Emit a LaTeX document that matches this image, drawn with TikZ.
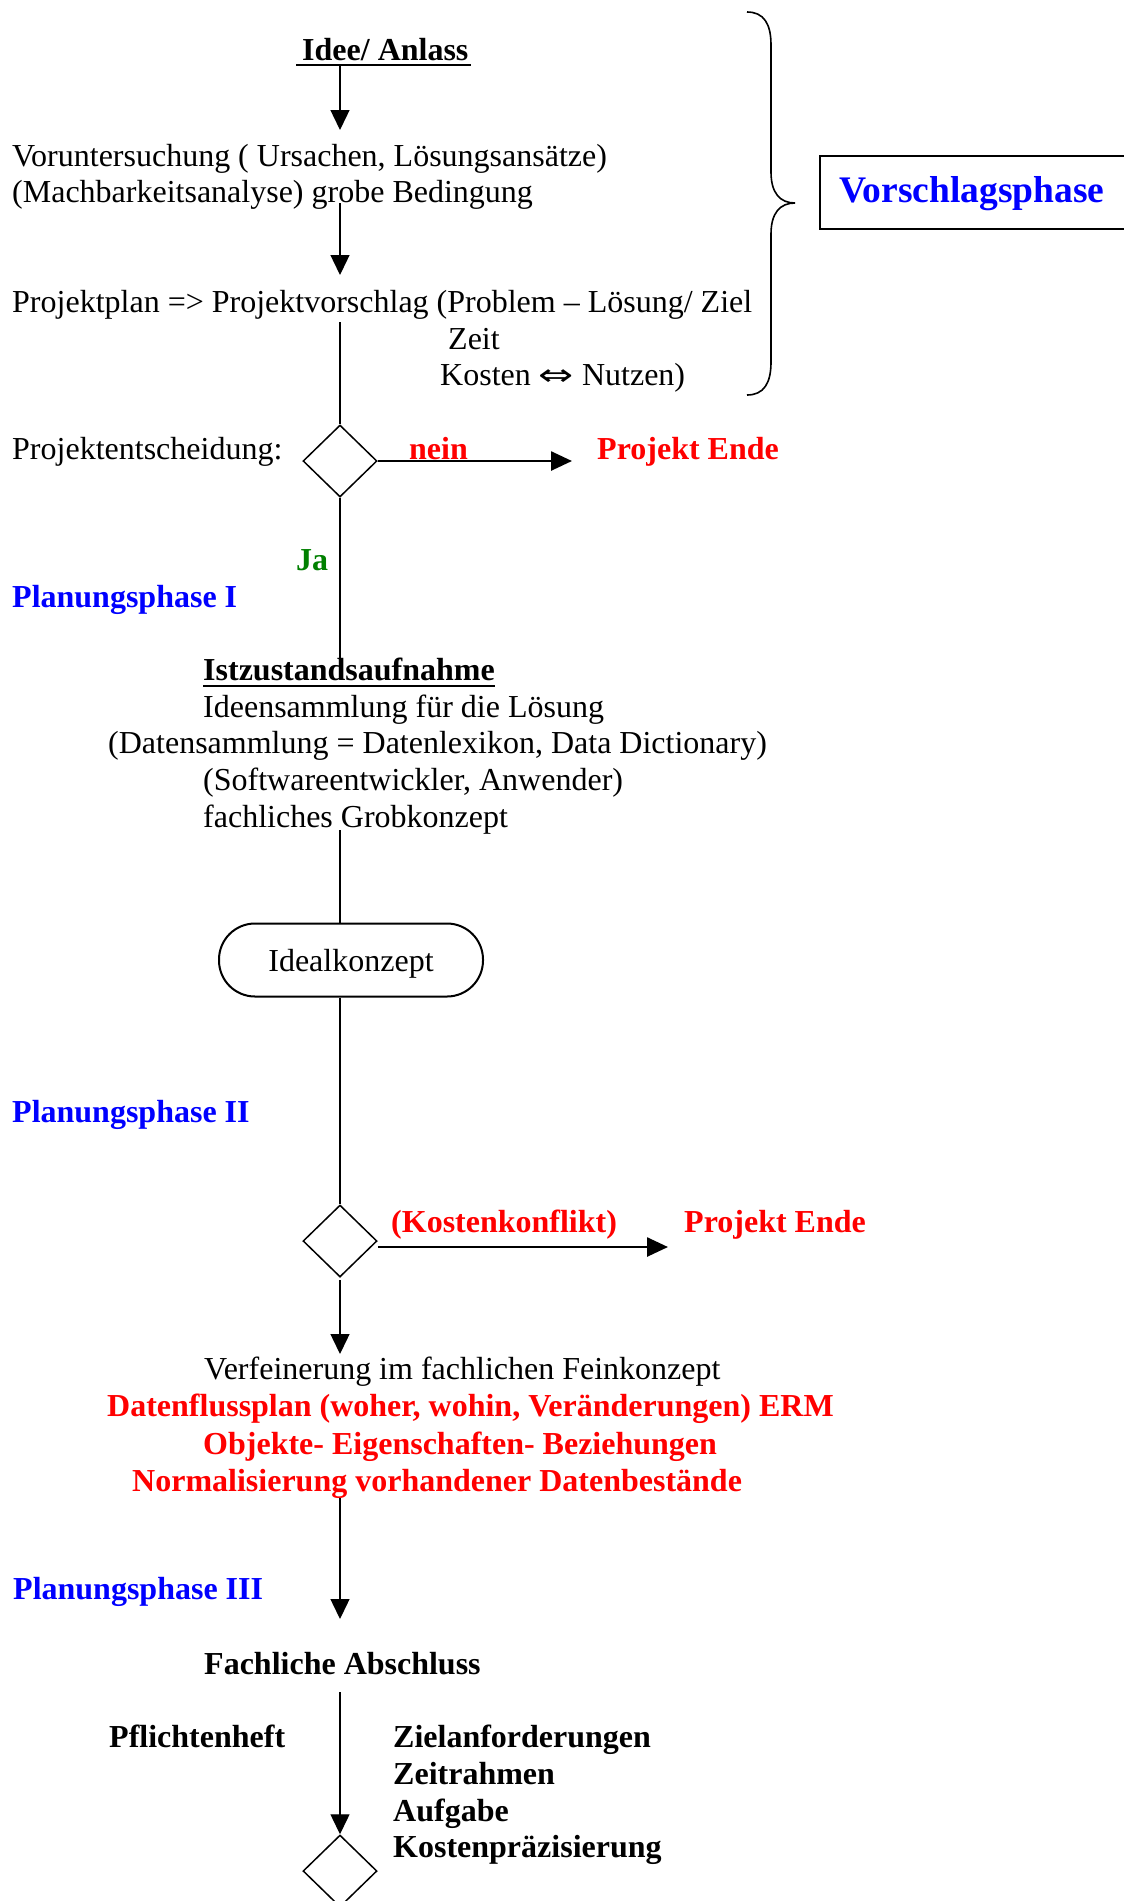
\documentclass[tikz,border=0pt]{standalone}
\usepackage{fontspec}
\setmainfont{Liberation Serif}
\newfontfamily\symfont{DejaVu Sans}
\usetikzlibrary{arrows.meta,shapes.geometric,calc}
\definecolor{myred}{RGB}{255,0,0}
\definecolor{myblue}{RGB}{0,0,255}
\definecolor{mygreen}{RGB}{0,128,0}
\begin{document}
\begin{tikzpicture}[x=1pt,y=-1pt,
  txt/.style={anchor=base west, inner sep=0pt, xshift=-1pt, yshift=2pt, font=\fontsize{32}{37}\selectfont},
  bold/.style={anchor=base west, inner sep=0pt, xshift=-1pt, yshift=2pt, font=\fontsize{32}{37}\selectfont\bfseries},
  flow/.style={line width=1.4pt},
  arr/.style={line width=1.4pt, -{Triangle[length=20pt,width=19pt]}},
  harr/.style={line width=2.6pt, -{Triangle[length=21pt,width=19pt]}},
  dia/.style={draw, diamond, line width=1.5pt, minimum width=74pt, minimum height=72pt, inner sep=0pt},
  uline/.style={line width=2.7pt}
]
\useasboundingbox (0,0) rectangle (1124,1901);
\clip (0,0) rectangle (1124,1901);
\fill[white] (0,0) rectangle (1124,1901);

% --- Vorschlagsphase part
\node[bold] (idee) at (303,62) {Idee/ Anlass};
\draw[uline] ($(idee.base west)+(-6,5)$) -- ($(idee.base east)+(2,5)$);
\node[txt] (vor1) at (13,168) {Voruntersuchung ( Ursachen, Lösungsansätze)};
\node[txt] (vor2) at (13,204) {(Machbarkeitsanalyse) grobe Bedingung};
\node[txt] (plan1) at (13,314) {Projektplan => Projektvorschlag (Problem – Lösung/ Ziel};
\node[txt] (plan2) at (449,351) {Zeit};
\node[txt] (plan3) at (441,387) {Kosten {\symfont\fontsize{30}{30}\selectfont\scalebox{1.4}[1]{⇔}} Nutzen)};

% brace
\draw[line width=1.6pt] (747,12) .. controls (764,12) and (771,24) .. (771,45)
  -- (771,172) .. controls (771,193) and (780,203) .. (795,203)
  .. controls (780,203) and (771,213) .. (771,234)
  -- (771,362) .. controls (771,383) and (764,395) .. (747,395);
\node[draw, line width=2pt, anchor=north west, minimum width=340pt, minimum height=73pt, inner sep=0pt] (vbox) at (819,155) {};
\node[anchor=base west, inner sep=0pt, text=myblue, font=\fontsize{37.5}{42}\selectfont\bfseries] (vtext) at (839,202) {Vorschlagsphase};

% decision 1
\node[dia] (d1) at (340,461) {};
\node[txt] (pe) at (13,461) {Projektentscheidung:};
\node[bold, text=myred] (nein) at (410,461) {nein};
\node[bold, text=myred] (ende1) at (598,461) {Projekt Ende};
\node[bold, text=mygreen] (ja) at (297,572) {Ja};

% Planungsphase I
\node[bold, text=myblue] (pp1) at (13,609) {Planungsphase I};
\node[bold] (ist) at (204,682) {Istzustandsaufnahme};
\draw[uline] ($(ist.base west)+(0,6)$) -- ($(ist.base east)+(0,6)$);
\node[txt] (ist2) at (204,719) {Ideensammlung für die Lösung};
\node[txt] (ist3) at (109,755) {(Datensammlung = Datenlexikon, Data Dictionary)};
\node[txt] (ist4) at (204,792) {(Softwareentwickler, Anwender)};
\node[txt] (ist5) at (204,829) {fachliches Grobkonzept};
\node[draw, line width=2pt, rounded corners=36pt, minimum width=264pt, minimum height=73pt, inner sep=0pt, text depth=0pt, font=\fontsize{32}{37}\selectfont] (ideal) at (351,960) {Idealkonzept};

% Planungsphase II
\node[bold, text=myblue] (pp2) at (13,1124) {Planungsphase II};
\node[dia] (d2) at (340,1241) {};
\node[bold, text=myred] (kk) at (392,1234) {(Kostenkonflikt)};
\node[bold, text=myred] (ende2) at (685,1234) {Projekt Ende};
\node[txt] (fein1) at (205,1381) {Verfeinerung im fachlichen Feinkonzept};
\node[bold, text=myred] (fein2) at (108,1418) {Datenflussplan (woher, wohin, Veränderungen) ERM};
\node[bold, text=myred] (fein3) at (204,1456) {Objekte- Eigenschaften- Beziehungen};
\node[bold, text=myred] (fein4) at (133,1493) {Normalisierung vorhandener Datenbestände};

% Planungsphase III
\node[bold, text=myblue] (pp3) at (14,1601) {Planungsphase III};
\node[bold] (fa) at (205,1676) {Fachliche Abschluss};
\node[bold] (pf) at (110,1749) {Pflichtenheft};
\node[bold] (z1) at (394,1749) {Zielanforderungen};
\node[bold] (z2) at (394,1786) {Zeitrahmen};
\node[bold] (z3) at (394,1823) {Aufgabe};
\node[bold] (z4) at (394,1859) {Kostenpräzisierung};
\node[dia] (d3) at (340,1871) {};

% connectors
\coordinate (c1) at (340,64);   \coordinate (c1e) at (340,130);
\draw[arr] (c1) -- (c1e);
\coordinate (c2) at (340,203);  \coordinate (c2e) at (340,275);
\draw[arr] (c2) -- (c2e);
\coordinate (c3) at (340,322);
\draw[flow] (c3) -- (d1.north);
\coordinate (c4e) at (572,461);
\draw[harr] (d1.east) -- (c4e);
\coordinate (c5e) at (340,662);
\draw[flow] (d1.south) -- (c5e);
\coordinate (c6) at (340,830);
\draw[flow] (c6) -- (c6 |- ideal.north);
\draw[flow] (c6 |- ideal.south) -- (d2.north);
\coordinate (c8e) at (668,1247);
\draw[harr] (d2.east |- c8e) -- (c8e);
\coordinate (c9) at (340,1280); \coordinate (c9e) at (340,1354);
\draw[arr] (c9) -- (c9e);
\coordinate (c10) at (340,1498); \coordinate (c10e) at (340,1619);
\draw[arr] (c10) -- (c10e);
\coordinate (c11) at (340,1692);
\draw[arr] (c11) -- (d3.north);
\end{tikzpicture}
\end{document}
